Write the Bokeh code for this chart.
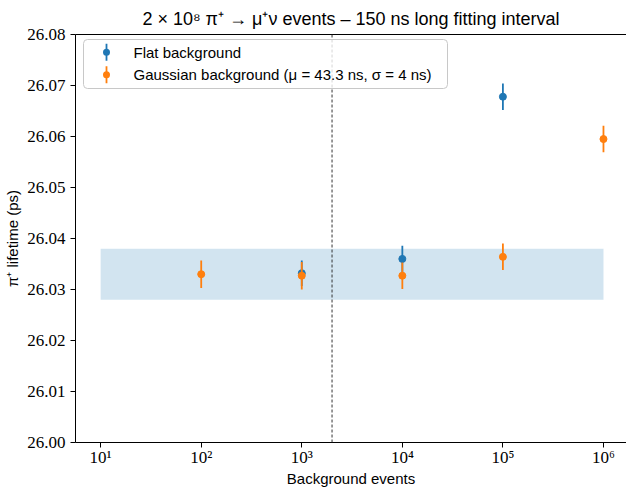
import numpy as np
from bokeh.plotting import figure
from bokeh.models import (Range1d, LogAxis, FixedTicker, NumeralTickFormatter,
                          CustomJSTickFormatter, Span, BoxAnnotation, Label)
from bokeh.embed import file_html
from bokeh.resources import INLINE

# ---------------- data ----------------
flat_events = [1e3, 1e4, 1e5]
flat_lifetime = [26.0332, 26.0360, 26.0678]
flat_err = [0.0025, 0.0026, 0.0026]

gauss_events = [1e2, 1e3, 1e4, 1e5, 1e6]
gauss_lifetime = [26.0330, 26.0327, 26.0327, 26.0364, 26.0595]
gauss_err = [0.0027, 0.0027, 0.0026, 0.0026, 0.0026]

band_events = [10, 1e6]
band_low = [26.028]
band_high = [26.038]
threshold_events = [2000]

x_tick_values = [10, 100, 1000, 10000, 100000, 1000000]
x_tick_labels = ["10¹", "10²", "10³", "10⁴", "10⁵", "10⁶"]
y_tick_values = [26.00, 26.01, 26.02, 26.03, 26.04, 26.05, 26.06, 26.07, 26.08]

series_labels = ["Flat background",
                 "Gaussian background (μ = 43.3 ns, σ = 4 ns)"]
title_text = "2 × 10⁸ π⁺ → μ⁺ν events – 150 ns long fitting interval"

BLUE = "#1f77b4"
ORANGE = "#ff7f0e"
SANS = "Liberation Sans"
SERIF = "Liberation Serif"

p = figure(width=626, height=489, x_axis_type="log",
           x_range=Range1d(10 ** 0.75, 10 ** 6.229),
           y_range=Range1d(26.0, 26.08),
           output_backend="svg", toolbar_location=None,
           title=title_text,
           min_border_left=75, min_border_right=0,
           min_border_top=32, min_border_bottom=44)
p.grid.visible = False
p.outline_line_color = None
p.background_fill_color = "white"

p.title.align = "center"
p.title.text_font = SANS
p.title.text_font_size = "18px"
p.title.text_font_style = "normal"
p.title.text_color = "black"
p.title.standoff = 12

# axes
xa = p.xaxis[0]
xa.ticker = FixedTicker(ticks=x_tick_values)
xa.formatter = CustomJSTickFormatter(
    args=dict(vals=x_tick_values, labels=x_tick_labels),
    code="""
    for (let i = 0; i < vals.length; i++) {
        if (Math.abs(Math.log10(tick) - Math.log10(vals[i])) < 1e-6) return labels[i];
    }
    return "";
    """)
xa.axis_label = "Background events"

ya = p.yaxis[0]
ya.ticker = FixedTicker(ticks=y_tick_values)
ya.formatter = NumeralTickFormatter(format="0.00")
ya.axis_label = "π⁺ lifetime (ps)"

for ax in (xa, ya):
    ax.major_label_text_font = SERIF
    ax.major_label_text_font_size = "17px"
    ax.major_label_text_color = "black"
    ax.axis_label_text_font = SANS
    ax.axis_label_text_font_size = "15px"
    ax.axis_label_text_font_style = "normal"
    ax.axis_label_text_color = "black"
    ax.axis_line_color = "black"
    ax.major_tick_line_color = "black"
    ax.major_tick_out = 5
    ax.major_tick_in = 0
    ax.minor_tick_out = 0
    ax.minor_tick_in = 0

ya.major_label_standoff = 5
ya.axis_label_standoff = 3
xa.major_label_standoff = 0
xa.axis_label_standoff = 0

top_axis = LogAxis(ticker=FixedTicker(ticks=[]), axis_line_color="black",
                   major_tick_out=0, major_tick_in=0,
                   minor_tick_out=0, minor_tick_in=0)
p.add_layout(top_axis, "above")

# band
p.quad(left=[band_events[0]], right=[band_events[1]], bottom=band_low, top=band_high,
       fill_color=BLUE, fill_alpha=0.2, line_color=None)

# threshold line
p.add_layout(Span(location=threshold_events[0], dimension="height",
                  line_color="#333333", line_dash="3 2", line_width=1))

# error bars + points
def series(xs, ys, errs, color):
    ys = np.array(ys)
    errs = np.array(errs)
    p.segment(x0=xs, y0=ys - errs, x1=xs, y1=ys + errs,
              line_color=color, line_width=1.8)
    p.scatter(xs, ys, size=7, fill_color=color, line_color=color)

series(flat_events, flat_lifetime, flat_err, BLUE)
series(gauss_events, gauss_lifetime, gauss_err, ORANGE)

# ---------------- legend (frame-relative screen units, y up from frame bottom) ----
FB = 441.0  # expected page y of frame bottom
def sbox(left, right, bottom, top, **kw):
    return BoxAnnotation(left=left, right=right, bottom=bottom, top=top,
                         left_units="screen", right_units="screen",
                         top_units="screen", bottom_units="screen", **kw)

p.add_layout(sbox(8, 372, FB - 87, FB - 38,
                  fill_color="white", fill_alpha=0.8,
                  line_color="#c8c8c8", line_alpha=1.0, line_width=1,
                  border_radius=4))

for i, (lab, col) in enumerate(zip(series_labels, [BLUE, ORANGE])):
    cy = FB - 50.7 - i * 22.6
    p.add_layout(sbox(30.1, 31.9, cy - 8.5, cy + 8.5,
                      fill_color=col, fill_alpha=1.0, line_color=None))
    p.add_layout(sbox(27.5, 34.5, cy - 3.5, cy + 3.5,
                      fill_color=col, fill_alpha=1.0, line_color=None,
                      border_radius=4))
    p.add_layout(Label(x=58, y=cy, x_units="screen", y_units="screen",
                       text=lab, text_baseline="middle", text_align="left",
                       text_font=SANS, text_font_size="15px", text_color="black"))

open("out.html", "w").write(file_html(p, INLINE))
